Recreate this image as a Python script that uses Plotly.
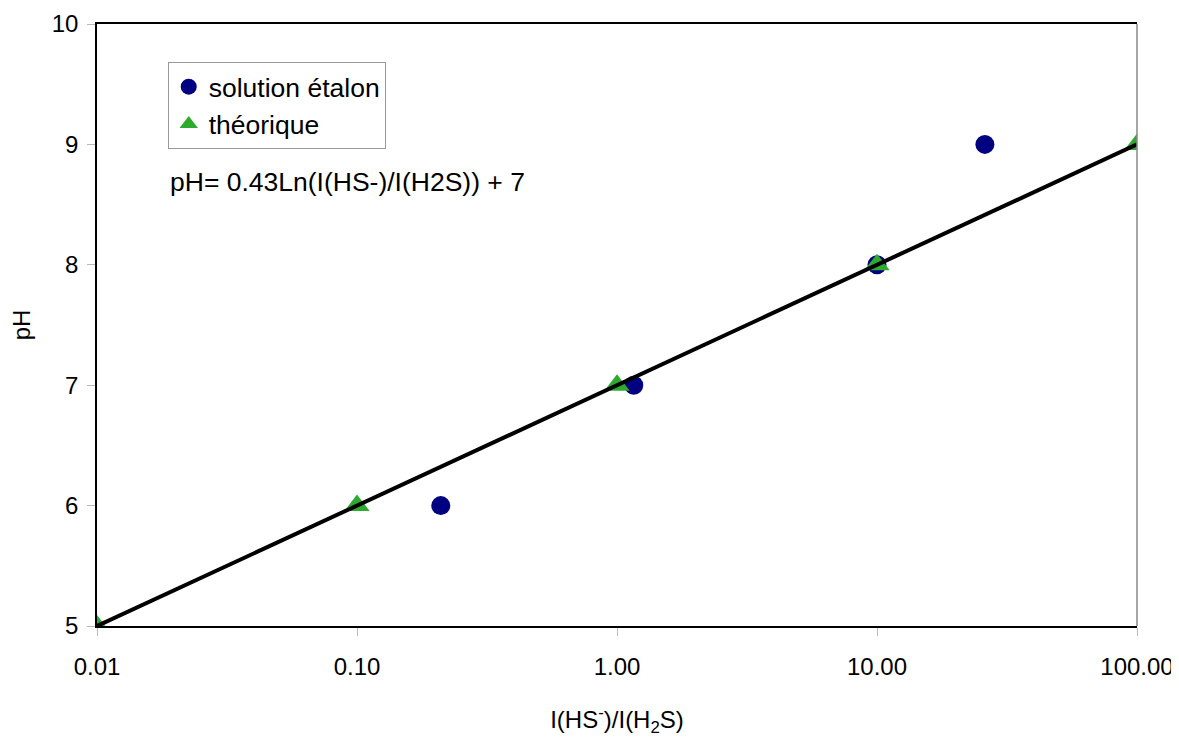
import plotly.graph_objects as go

# data
etalon_x = [0.21, 1.16, 10.0, 26.0]
etalon_y = [6, 7, 8, 9]
theo_x = [0.01, 0.1, 1.0, 10.0, 100.0]
theo_y = [5, 6, 7, 8, 9]
fit_x = [0.01, 100.0]
fit_y = [5, 9]
x_ticks = [0.01, 0.1, 1, 10, 100]
x_labels = ["0.01", "0.10", "1.00", "10.00", "100.00"]

font = "Liberation Sans, Arial, sans-serif"

fig = go.Figure()
fig.add_trace(go.Scatter(
    x=etalon_x, y=etalon_y, mode="markers", name="solution étalon",
    marker=dict(symbol="circle", size=19, color="#000080"),
    legendrank=1,
))
fig.add_trace(go.Scatter(
    x=theo_x, y=theo_y, mode="markers", name="théorique",
    marker=dict(symbol="triangle-up", size=22, color="#2eaa2e"),
    legendrank=2,
))
fig.add_trace(go.Scatter(
    x=fit_x, y=fit_y, mode="lines", showlegend=False,
    line=dict(color="black", width=4),
))

fig.add_annotation(
    text="pH= 0.43Ln(I(HS-)/I(H2S)) + 7",
    xref="paper", yref="paper", x=0.068, y=0.737,
    xanchor="left", yanchor="middle", showarrow=False,
    font=dict(size=26.5, color="black", family=font),
)

# right frame edge is grey in the original
fig.add_shape(
    type="line", xref="paper", yref="paper", x0=1, x1=1, y0=0, y1=1,
    line=dict(color="#888888", width=1.5),
)

# the page body adds an 8px offset, so the figure is 8px smaller
fig.update_layout(
    width=1171, height=729,
    plot_bgcolor="white", paper_bgcolor="white",
    margin=dict(l=89, r=42, t=16, b=111),
    font=dict(family=font, size=24, color="black"),
    legend=dict(
        x=0.068, y=0.937, xanchor="left", yanchor="top",
        bordercolor="#999999", borderwidth=1, bgcolor="white",
        font=dict(size=26.5), itemwidth=30,
        tracegroupgap=0,
    ),
)
fig.update_xaxes(
    type="log", range=[-2, 2], tickvals=x_ticks, ticktext=x_labels,
    showgrid=False, zeroline=False, automargin=False,
    showline=True, linecolor="black", linewidth=1.5, mirror=True,
    ticks="outside", ticklen=8, tickcolor="#bbbbbb",
    ticklabelstandoff=10, tickfont=dict(size=24),
    title=dict(text="I(HS<sup>-</sup>)/I(H<sub>2</sub>S)", standoff=36, font=dict(size=24)),
)
fig.update_yaxes(
    range=[5, 10], dtick=1, showgrid=False, zeroline=False, automargin=False,
    showline=True, linecolor="black", linewidth=1.5, mirror=False,
    ticks="outside", ticklen=8, tickcolor="#bbbbbb",
    ticklabelstandoff=4, tickfont=dict(size=24),
    title=dict(text="pH", standoff=26, font=dict(size=24)),
)

fig.write_html("out.html")
